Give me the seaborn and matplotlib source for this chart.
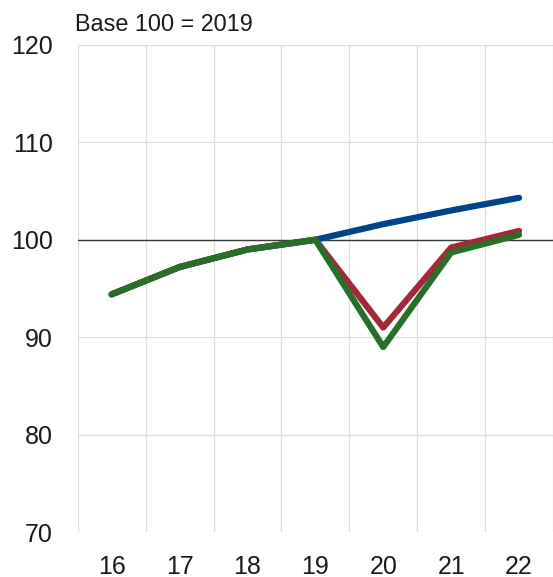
# index chart: trend vs two scenarios, base 100 = 2019

import numpy as np
import pandas as pd
import matplotlib.pyplot as plt
import seaborn as sns

# -----------------------------
# data
# -----------------------------
years = [16, 17, 18, 19, 20, 21, 22]
trend = [94.4, 97.2, 99.0, 100.0, 101.6, 103.0, 104.3]
scenario_red = [94.4, 97.2, 99.0, 100.0, 91.0, 99.2, 100.9]
scenario_green = [94.4, 97.2, 99.0, 100.0, 89.0, 98.7, 100.5]
series_names = ["Trend", "Scenario 1", "Scenario 2"]
y_ticks = [70, 80, 90, 100, 110, 120]

df = pd.DataFrame({
    "year": years * 3,
    "value": trend + scenario_red + scenario_green,
    "series": np.repeat(series_names, len(years)),
})

palette = {"Trend": "#004489", "Scenario 1": "#a4283b", "Scenario 2": "#28702a"}

# -----------------------------
# plot
# -----------------------------
sns.set_style("white")
plt.rcParams["font.family"] = ["Liberation Sans", "DejaVu Sans"]

W, H = 553, 577
fig = plt.figure(figsize=(W / 100, H / 100), dpi=100)
left, right, top, bottom = 77.7, 553, 44.7, 532.3
ax = fig.add_axes([left / W, 1 - bottom / H, (right - left) / W, (bottom - top) / H])

ax.axhline(100, color="#3a3a3a", lw=1.0, zorder=1.5)

sns.lineplot(data=df, x="year", y="value", hue="series", hue_order=series_names,
             palette=palette, linewidth=4.5, legend=False, ax=ax,
             solid_capstyle="round", solid_joinstyle="round", zorder=3)

ax.set_xlim(15.5, 22.48)
ax.set_ylim(70, 120)
ax.set_xticks(years)
ax.set_xticks(np.arange(15.5, 23, 1), minor=True)
ax.set_yticks(y_ticks)

ax.grid(False)
ax.grid(axis="x", which="minor", color="#dcdcdc", lw=0.9)
ax.grid(axis="y", which="major", color="#dcdcdc", lw=0.9)
ax.set_axisbelow(True)

ax.tick_params(axis="both", which="both", length=0, labelsize=18, labelcolor="#1a1a1a")
ax.tick_params(axis="y", pad=18)
ax.tick_params(axis="x", pad=16)
ax.set_xlabel("")
ax.set_ylabel("")
sns.despine(ax=ax, left=True, bottom=True)

fig.text(75 / W, 1 - 31 / H, "Base 100 = 2019", fontsize=16.8, ha="left", va="baseline",
         color="#1a1a1a")

fig.savefig("out.png", dpi=100)
